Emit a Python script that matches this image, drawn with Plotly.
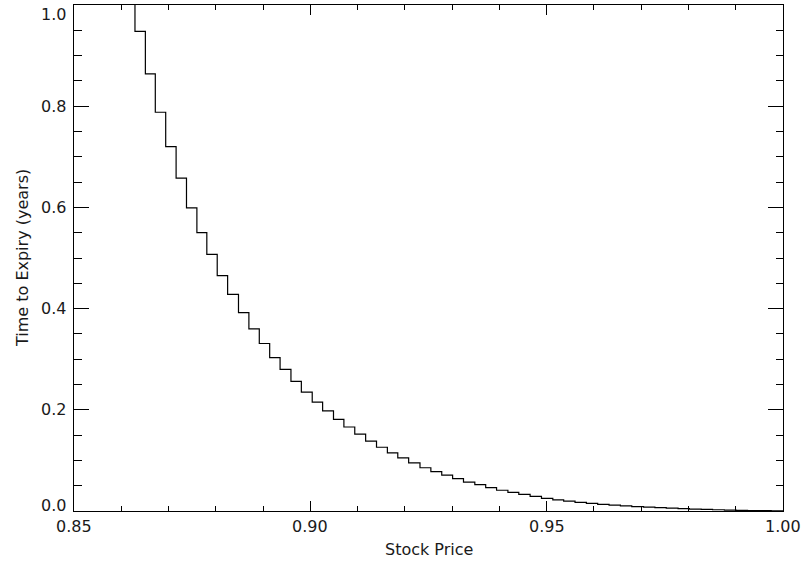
import plotly.graph_objects as go

# Exercise-boundary step points: stock price (x) and time to expiry (y, years)
stock_price = [
    0.8608, 0.8629, 0.8651, 0.8672, 0.8694, 0.8716, 0.8738, 0.8760, 0.8781,
    0.8803, 0.8825, 0.8848, 0.8870, 0.8892, 0.8914, 0.8936, 0.8959, 0.8981,
    0.9004, 0.9026, 0.9049, 0.9071, 0.9094, 0.9117, 0.9140, 0.9163, 0.9185,
    0.9208, 0.9232, 0.9255, 0.9278, 0.9301, 0.9324, 0.9348, 0.9371, 0.9394,
    0.9418, 0.9441, 0.9465, 0.9489, 0.9513, 0.9536, 0.9560, 0.9584, 0.9608,
    0.9632, 0.9656, 0.9680, 0.9705, 0.9729, 0.9753, 0.9778, 0.9802, 0.9827,
    0.9851, 0.9876, 0.9901, 0.9925, 0.9950, 0.9975, 1.0000,
]
time_to_expiry = [
    1.040, 0.948, 0.864, 0.788, 0.720, 0.658, 0.599, 0.550, 0.507,
    0.465, 0.428, 0.392, 0.360, 0.331, 0.303, 0.280, 0.256, 0.235,
    0.215, 0.198, 0.181, 0.166, 0.152, 0.138, 0.126, 0.115, 0.105,
    0.095, 0.0855, 0.078, 0.071, 0.064, 0.057, 0.052, 0.046, 0.041,
    0.037, 0.033, 0.029, 0.025, 0.022, 0.0195, 0.017, 0.015, 0.013,
    0.0115, 0.010, 0.0087, 0.0075, 0.0065, 0.0055, 0.0046, 0.0038, 0.0031,
    0.0025, 0.0019, 0.0014, 0.0010, 0.0006, 0.0003, 0.0,
]

x_tick_vals = [0.85, 0.90, 0.95, 1.00]
x_tick_text = ["0.85", "0.90", "0.95", "1.00"]
y_tick_vals = [0.0, 0.2, 0.4, 0.6, 0.8, 1.0]
y_tick_text = ["0.0", "0.2", "0.4", "0.6", "0.8", "1.0"]
x_title = "Stock Price"
y_title = "Time to Expiry (years)"

FONT = "DejaVu Sans"
FSIZE = 16
TCOL = "#1a1a1a"

fig = go.Figure()
fig.add_trace(go.Scatter(
    x=stock_price, y=time_to_expiry, mode="lines",
    line=dict(color="black", width=1.2, shape="hv"),
    showlegend=False, hoverinfo="skip",
))

axis_common = dict(
    showgrid=False, zeroline=False, showline=True, linecolor="black",
    linewidth=1, mirror="ticks", ticks="inside", tickcolor="black",
    tickwidth=1, showticklabels=False,
)

fig.update_xaxes(
    range=[0.85, 1.0], tickvals=x_tick_vals, ticklen=10,
    minor=dict(dtick=0.01, ticks="inside", ticklen=5, tickcolor="black", tickwidth=1),
    **axis_common,
)
fig.update_yaxes(
    range=[0.0, 1.0], tickvals=y_tick_vals, ticklen=15,
    minor=dict(dtick=0.05, ticks="inside", ticklen=7.5, tickcolor="black", tickwidth=1),
    **axis_common,
)

annotations = []
for v, t in zip(x_tick_vals, x_tick_text):
    annotations.append(dict(
        x=v, xref="x", y=0, yref="paper", text=t, showarrow=False,
        xanchor="center", yanchor="middle", yshift=-15,
        font=dict(family=FONT, size=FSIZE, color=TCOL),
    ))
for v, t in zip(y_tick_vals, y_tick_text):
    shift = 0
    if v == y_tick_vals[0]:
        shift = 6
    elif v == y_tick_vals[-1]:
        shift = -9.5
    annotations.append(dict(
        x=0, xref="paper", y=v, yref="y", text=t, showarrow=False,
        xanchor="right", yanchor="middle", xshift=-6, yshift=shift,
        font=dict(family=FONT, size=FSIZE, color=TCOL),
    ))
annotations.append(dict(
    x=0.5, xref="paper", y=0, yref="paper", text=x_title, showarrow=False,
    xanchor="center", yanchor="middle", yshift=-38.5,
    font=dict(family=FONT, size=FSIZE, color=TCOL),
))
annotations.append(dict(
    x=0, xref="paper", y=0.5, yref="paper", text=y_title, showarrow=False,
    textangle=-90, xanchor="center", yanchor="middle", xshift=-52,
    font=dict(family=FONT, size=FSIZE, color=TCOL),
))

fig.update_layout(
    width=806, height=563,
    margin=dict(l=74, r=23, t=5, b=52, autoexpand=False),
    plot_bgcolor="white", paper_bgcolor="white",
    annotations=annotations,
)

fig.write_html(
    "out.html",
    config={"displayModeBar": False, "staticPlot": True},
    post_script="document.body.style.margin='0';document.body.style.padding='0';"
                "document.body.style.overflow='hidden';",
)
